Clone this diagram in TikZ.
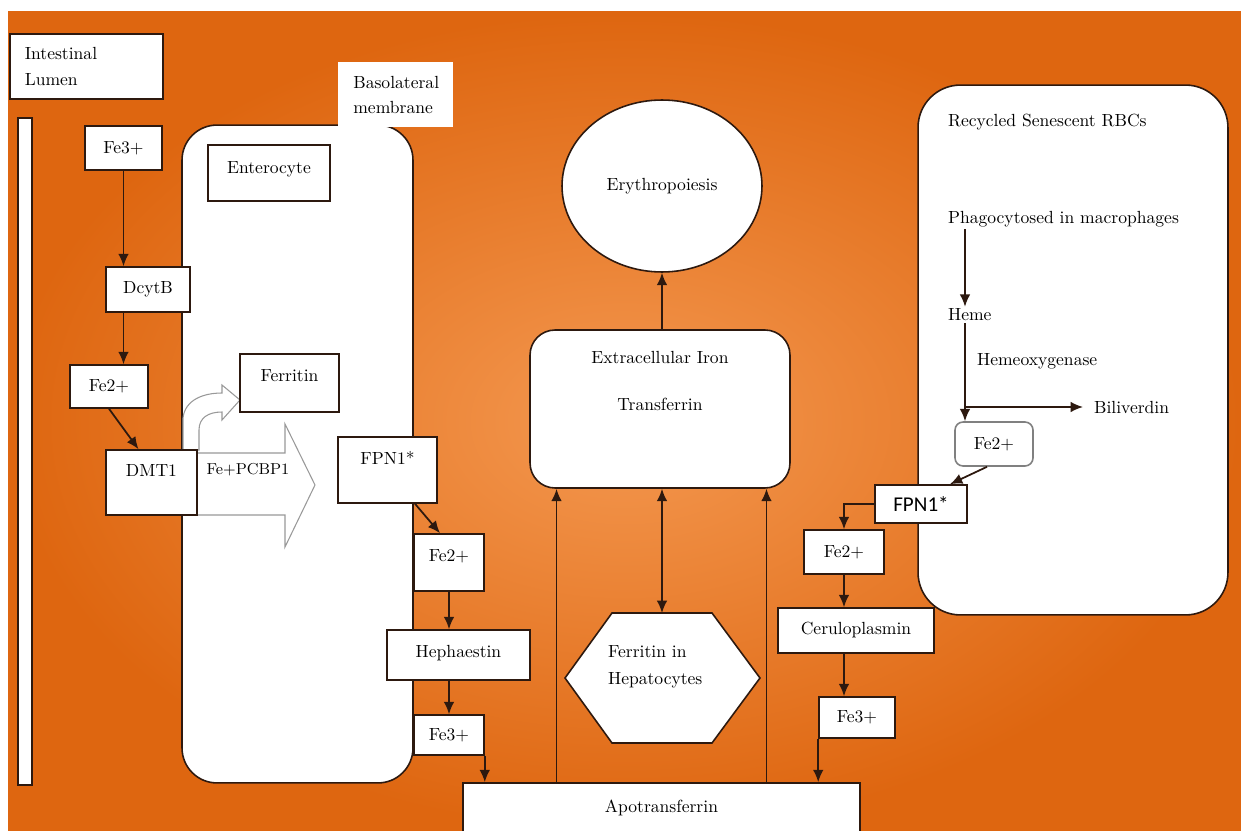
\documentclass[tikz,border=0pt]{standalone}
\usepackage{fontspec}
\newfontfamily\calibrifont{Carlito}
\usepackage{tikz}
\usetikzlibrary{calc,positioning,arrows,arrows.meta,shapes.geometric,backgrounds,fit}
\definecolor{edgecol}{RGB}{45,25,15}
\definecolor{orangedark}{RGB}{222,102,16}
\definecolor{orangelight}{RGB}{244,152,80}
\tikzset{
  box/.style={
      draw=edgecol,
      fill=white,
      line width=0.9pt,
      inner sep=0pt,
  },
  cell/.style={
      draw=edgecol,
      fill=white,
      line width=0.9pt,
      rounded corners=#1,
  },
  cell/.default=0.7cm,
  raised/.style={
      text height=7pt,
      text depth=#1
  },
  tip/.tip={Latex[length=7pt,width=6pt]},
  flow/.style={
      -tip,
      draw=edgecol,
      line width=1pt
  },
  hollow/.style={
      draw=gray!80,
      fill=white,
      line width=0.6pt
  },
  plain/.style={
      inner sep=1pt
  }
}
\begin{document}
\begin{tikzpicture}[x=0.02cm,y=-0.02cm]
  \useasboundingbox (0,0) rectangle (1241,831);
  \shade[inner color=orangelight,outer color=orangedark] (8,12) rectangle (1241,831);

  % lumen side
  \node[box,anchor=north west,text width=2.46cm,inner xsep=0.3cm,
  minimum height=1.3cm,align=left] (lumen) at (9,33) {Intestinal\\[3pt]Lumen};
  \draw[box] (18,118) rectangle (32,785);

  % enterocyte
  \node[cell,minimum width=4.62cm,minimum height=13.16cm] (entero) at (297.5,454) {};
  \node[fill=white,anchor=north west,text width=1.7cm,inner xsep=0.3cm,
  minimum height=1.3cm,align=left] (baso) at (338,62) {Basolateral\\[2pt]membrane};
  \node[box,minimum width=2.44cm,minimum height=1.12cm,raised=6.8pt] (enterolbl) at (269,173) {Enterocyte};
  \node[box,minimum width=1.54cm,minimum height=0.88cm] (fe3a) at (123.5,148) {Fe3+};
  \node[box,minimum width=1.68cm,minimum height=0.9cm] (dcytb) at (148,289.5) {DcytB};
  \node[box,minimum width=1.56cm,minimum height=0.86cm] (fe2a) at (109,386.5) {Fe2+};

  % hollow arrows out of DMT1
  \draw[hollow] (197,453) -- (285,453) -- (285,424) -- (315,485) -- (285,547)
  -- (285,515) -- (197,515) -- cycle;
  \node[plain,font=\small] (pcbp) at (248,470) {Fe+PCBP1};
  \draw[hollow] (183,450) -- (183,418) .. controls (185,400) and (203,393) .. (222,393)
  -- (222,385) -- (240,400) -- (222,420) -- (222,412)
  .. controls (208,412) and (199,418) .. (199,430) -- (199,450) -- cycle;
  \node[box,minimum width=1.82cm,minimum height=1.3cm,raised=14.2pt] (dmt1) at (151.5,482.5) {DMT1};

  \draw[flow] (fe3a.south) -- (fe3a.south |- dcytb.north);
  \draw[flow] (fe3a.south |- dcytb.south) -- (fe3a.south |- fe2a.north);
  \draw[flow] (fe2a.south) -- ([xshift=-0.26cm]dmt1.north);

  \node[box,minimum width=1.98cm,minimum height=1.16cm,raised=9pt] (ferritin) at (289.5,383) {Ferritin};
  \node[box,minimum width=1.98cm,minimum height=1.32cm,raised=13.6pt] (fpn1) at (387.5,470) {FPN1*};
  \node[box,minimum width=1.4cm,minimum height=1.14cm,raised=8.5pt] (fe2b) at (449,562.5) {Fe2+};
  \node[box,minimum width=2.86cm,minimum height=1cm,raised=4.5pt] (heph) at (458.5,655) {Hephaestin};
  \node[box,minimum width=1.4cm,minimum height=0.8cm] (fe3b) at (449,735) {Fe3+};
  \draw[flow] ([xshift=0.55cm]fpn1.south) -- ([xshift=-0.18cm]fe2b.north);
  \draw[flow] (fe2b.south) -- (fe2b.south |- heph.north);
  \draw[flow] (heph.south -| fe2b.south) -- (fe2b.south |- fe3b.north);

  % circulation
  \node[box,minimum width=7.94cm,minimum height=1.04cm,raised=3.4pt] (apo) at (661.5,809) {Apotransferrin};
  \draw[flow] (fe3b.south east) -- (fe3b.south east |- apo.north);
  \node[box,ellipse,minimum width=4cm,minimum height=3.44cm] (erythro) at (662,186) {Erythropoiesis};
  \node[cell=0.5cm,minimum width=5.2cm,minimum height=3.16cm] (extra) at (660,409) {};
  \node[plain,align=center] (extratxt) at (660,381) {Extracellular Iron\\[14.6pt]Transferrin};
  \draw[box] (612,613) -- (712,613) -- (760,678) -- (712,743) -- (612,743) -- (565,678) -- cycle;
  \node[plain,align=left,anchor=west] (hepato) at (606,667) {Ferritin in\\[3pt]Hepatocytes};
  \coordinate (hexatop) at (662,613);
  \draw[flow] (erythro.south |- extra.north) -- (erythro.south);
  \draw[flow] ([xshift=-2.1cm]apo.north) -- ([xshift=-2.1cm]apo.north |- extra.south);
  \draw[flow] ([xshift=2.1cm]apo.north) -- ([xshift=2.1cm]apo.north |- extra.south);
  \draw[flow,tip-tip] (hexatop) -- (hexatop |- extra.south);

  % macrophage recycling
  \node[cell=0.85cm,minimum width=6.2cm,minimum height=10.6cm] (rbc) at (1073,350) {};
  \node[plain,anchor=west] (rbctitle) at (946,122) {Recycled Senescent RBCs};
  \node[plain,anchor=west] (phago) at (946,219) {Phagocytosed in macrophages};
  \node[plain,anchor=west] (heme) at (946,315) {Heme};
  \node[plain,anchor=west] (hemeox) at (975,361) {Hemeoxygenase};
  \node[plain,anchor=west] (biliv) at (1092,407) {Biliverdin};
  \node[box,draw=gray,rounded corners=0.16cm,minimum width=1.56cm,minimum height=0.88cm] (fe2c) at (994,444) {Fe2+};
  \draw[flow] ([xshift=0.38cm]phago.south west) -- ([xshift=0.38cm]heme.north west);
  \draw[flow] ([xshift=0.38cm]heme.south west) -- ([xshift=0.38cm]heme.south west |- fe2c.north);
  \draw[flow] ([xshift=0.38cm]heme.south west |- biliv.west) -- ([xshift=-0.18cm]biliv.west);

  \node[box,minimum width=1.84cm,minimum height=0.76cm,
  font=\calibrifont\fontsize{12}{14}\selectfont] (fpn1r) at (921,504) {FPN1*};
  \node[box,minimum width=1.6cm,minimum height=0.88cm] (fe2d) at (844,552) {Fe2+};
  \node[box,minimum width=3.12cm,minimum height=0.9cm] (cerulo) at (856,630.5) {Ceruloplasmin};
  \node[box,minimum width=1.52cm,minimum height=0.82cm] (fe3c) at (857,717.5) {Fe3+};
  \draw[flow] ([xshift=-0.14cm]fe2c.south) -- ([xshift=0.58cm]fpn1r.north);
  \draw[flow] (fpn1r.west) -| (fe2d.north);
  \draw[flow] (fe2d.south) -- (fe2d.south |- cerulo.north);
  \draw[flow] (cerulo.south -| fe2d.south) -- (fe2d.south |- fe3c.north);
  \draw[flow] (fe3c.south west) -- (fe3c.south west |- apo.north);
\end{tikzpicture}
\end{document}
